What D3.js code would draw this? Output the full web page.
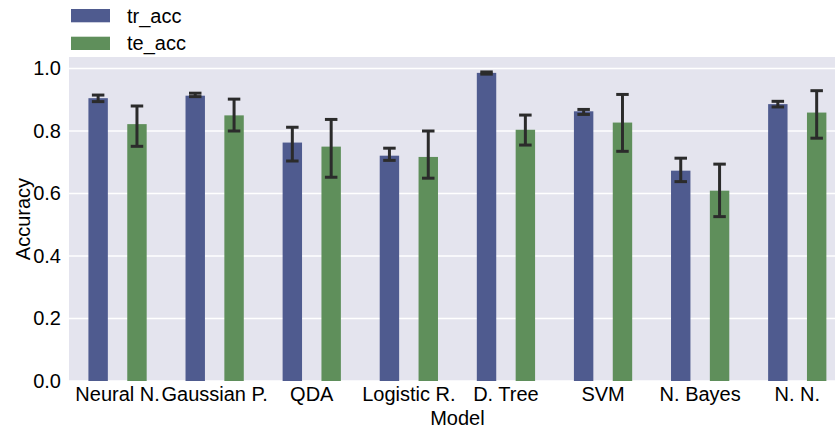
<!DOCTYPE html>
<html>
<head>
<meta charset="utf-8">
<script src="https://cdn.jsdelivr.net/npm/d3@7"></script>
<style>
  html, body { margin: 0; padding: 0; background: #ffffff; }
  svg { display: block; font-family: "Liberation Sans", Arial, Helvetica, sans-serif; }
</style>
</head>
<body>
<svg id="chart" width="835" height="431"></svg>
<script>
// Models compared
const models = ["Neural N.", "Gaussian P.", "QDA", "Logistic R.", "D. Tree", "SVM", "N. Bayes", "N. N."];
const seriesNames = ["tr_acc", "te_acc"];

// Mean training accuracy and its confidence interval
const trAcc   = [0.905, 0.913, 0.763, 0.721, 0.986, 0.863, 0.673, 0.886];
const trLow   = [0.894, 0.910, 0.704, 0.706, 0.982, 0.853, 0.638, 0.877];
const trHigh  = [0.915, 0.921, 0.812, 0.745, 0.989, 0.869, 0.713, 0.895];

// Mean test accuracy and its confidence interval
const teAcc   = [0.822, 0.850, 0.750, 0.717, 0.804, 0.827, 0.609, 0.859];
const teLow   = [0.751, 0.800, 0.652, 0.649, 0.755, 0.735, 0.526, 0.777];
const teHigh  = [0.880, 0.902, 0.837, 0.800, 0.851, 0.917, 0.694, 0.929];

const yTicks = [0.0, 0.2, 0.4, 0.6, 0.8, 1.0];

const colors = { tr_acc: "#4f5b8f", te_acc: "#5f8f5b" };

const rows = [];
models.forEach((m, i) => {
  rows.push({ model: m, series: "tr_acc", value: trAcc[i], lo: trLow[i], hi: trHigh[i] });
  rows.push({ model: m, series: "te_acc", value: teAcc[i], lo: teLow[i], hi: teHigh[i] });
});

const svg = d3.select("#chart");
const plot = { left: 69, right: 845.8, top: 57, bottom: 381 };

const x = d3.scaleBand().domain(models).range([plot.left, plot.right]).padding(0);
const y = d3.scaleLinear().domain([0, 1.0368]).range([plot.bottom, plot.top]);

// Panel background
svg.append("rect")
  .attr("x", plot.left).attr("y", plot.top)
  .attr("width", plot.right - plot.left).attr("height", plot.bottom - plot.top)
  .attr("fill", "#e4e4ee");

// Horizontal grid lines
svg.append("g").selectAll("line").data(yTicks).join("line")
  .attr("x1", plot.left).attr("x2", plot.right)
  .attr("y1", d => y(d)).attr("y2", d => y(d))
  .attr("stroke", "#ffffff").attr("stroke-width", 1.4);

// Bars: hue offsets of +-0.2 band, bar width 0.2 band
const step = x.bandwidth();
const offset = { tr_acc: -0.2, te_acc: 0.2 };
const barW = 0.2 * step;
const cx = d => x(d.model) + step / 2 + offset[d.series] * step;

svg.append("g").selectAll("rect").data(rows).join("rect")
  .attr("x", d => cx(d) - barW / 2)
  .attr("y", d => y(d.value))
  .attr("width", barW)
  .attr("height", d => y(0) - y(d.value))
  .attr("fill", d => colors[d.series]);

// Error bars with caps
const err = svg.append("g").attr("stroke", "#2b2b2b").attr("stroke-width", 3).attr("fill", "none");
const capW = 12.5;
err.selectAll("line.v").data(rows).join("line").attr("class", "v")
  .attr("x1", cx).attr("x2", cx)
  .attr("y1", d => y(d.lo)).attr("y2", d => y(d.hi));
err.selectAll("line.lo").data(rows).join("line").attr("class", "lo")
  .attr("x1", d => cx(d) - capW / 2).attr("x2", d => cx(d) + capW / 2)
  .attr("y1", d => y(d.lo)).attr("y2", d => y(d.lo));
err.selectAll("line.hi").data(rows).join("line").attr("class", "hi")
  .attr("x1", d => cx(d) - capW / 2).attr("x2", d => cx(d) + capW / 2)
  .attr("y1", d => y(d.hi)).attr("y2", d => y(d.hi));

// Axes
const fontSize = 20;
const yAxis = svg.append("g")
  .attr("transform", `translate(${plot.left},0)`)
  .call(d3.axisLeft(y).tickValues(yTicks).tickFormat(d3.format(".1f")).tickSize(0).tickPadding(8));
yAxis.select(".domain").remove();
yAxis.selectAll("text").attr("font-size", fontSize).attr("fill", "#000").attr("font-family", null);

const xAxis = svg.append("g")
  .attr("transform", `translate(0,${plot.bottom})`)
  .call(d3.axisBottom(x).tickSize(0).tickPadding(6));
xAxis.select(".domain").remove();
xAxis.selectAll("text").attr("font-size", fontSize).attr("fill", "#000").attr("font-family", null);

// Axis titles
svg.append("text")
  .attr("x", (plot.left + plot.right) / 2).attr("y", 425)
  .attr("text-anchor", "middle").attr("font-size", fontSize).attr("fill", "#000")
  .text("Model");
svg.append("text")
  .attr("transform", `translate(30,${(plot.top + plot.bottom) / 2}) rotate(-90)`)
  .attr("text-anchor", "middle").attr("font-size", fontSize).attr("fill", "#000")
  .text("Accuracy");

// Legend
const legend = svg.append("g").selectAll("g").data(seriesNames).join("g")
  .attr("transform", (d, i) => `translate(71,${9 + i * 27.7})`);
legend.append("rect").attr("width", 39).attr("height", 13.3).attr("fill", d => colors[d]);
legend.append("text").attr("x", 56).attr("y", 13.5).attr("font-size", fontSize).attr("fill", "#000")
  .text(d => d);
</script>
</body>
</html>
